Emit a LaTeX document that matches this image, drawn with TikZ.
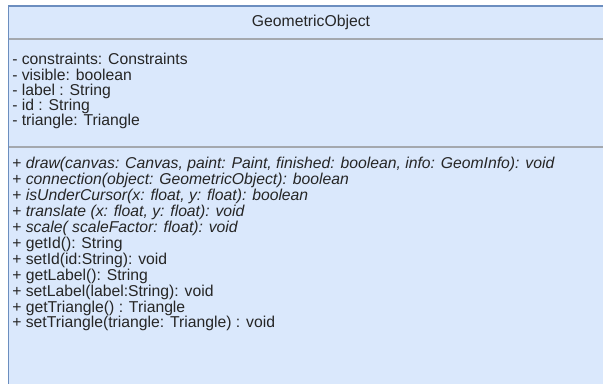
\documentclass[tikz,border=0pt]{standalone}
\usepackage{fontspec}
\setmainfont{Liberation Sans}
\definecolor{classfill}{HTML}{DAE8FC}
\definecolor{classedge}{HTML}{6C8EBF}
\definecolor{sepline}{HTML}{A4A8AE}
\definecolor{txt}{HTML}{262626}
\begin{document}
\begin{tikzpicture}[x=0.75pt,y=-0.75pt,
  member/.style={anchor=west,inner sep=0pt,text=txt,font=\fontsize{11.8}{14}\selectfont},
  title/.style={inner sep=0pt,text=txt,font=\fontsize{11.8}{14}\selectfont}]
\useasboundingbox (0,0) rectangle (603,384);
\clip (0,0) rectangle (603,384);
% class box, running past the right and lower edges
\draw[classedge,fill=classfill,line width=0.9pt] (8.5,6) rectangle (640,420);
\draw[sepline,line width=1.2pt] (9,39) -- (640,39);
\draw[sepline,line width=0.9pt] (9,147) -- (640,147);
\node[title] (name) at (311,22) {GeometricObject};
% attributes
\node[member] (a1) at (12,59) {- constraints: Constraints};
\node[member] (a2) at (12,75) {- visible: boolean};
\node[member] (a3) at (12,91) {- label : String};
\node[member] (a4) at (12,106) {- id : String};
\node[member] (a5) at (12,121) {- triangle: Triangle};
% operations
\node[member] (m1) at (12,164) {+ \textit{draw(canvas: Canvas, paint: Paint, finished: boolean, info: GeomInfo): void}};
\node[member] (m2) at (12,180) {+ \textit{connection(object: GeometricObject): boolean}};
\node[member] (m3) at (12,196) {+ \textit{isUnderCursor(x: float, y: float): boolean}};
\node[member] (m4) at (12,212) {+ \textit{translate (x: float, y: float): void}};
\node[member] (m5) at (12,228) {+ \textit{scale( scaleFactor: float): void}};
\node[member] (m6) at (12,244) {+ getId(): String};
\node[member] (m7) at (12,260) {+ setId(id:String): void};
\node[member] (m8) at (12,276) {+ getLabel(): String};
\node[member] (m9) at (12,292) {+ setLabel(label:String): void};
\node[member] (m10) at (12,308) {+ getTriangle() : Triangle};
\node[member] (m11) at (12,323) {+ setTriangle(triangle: Triangle) : void};
\end{tikzpicture}
\end{document}
